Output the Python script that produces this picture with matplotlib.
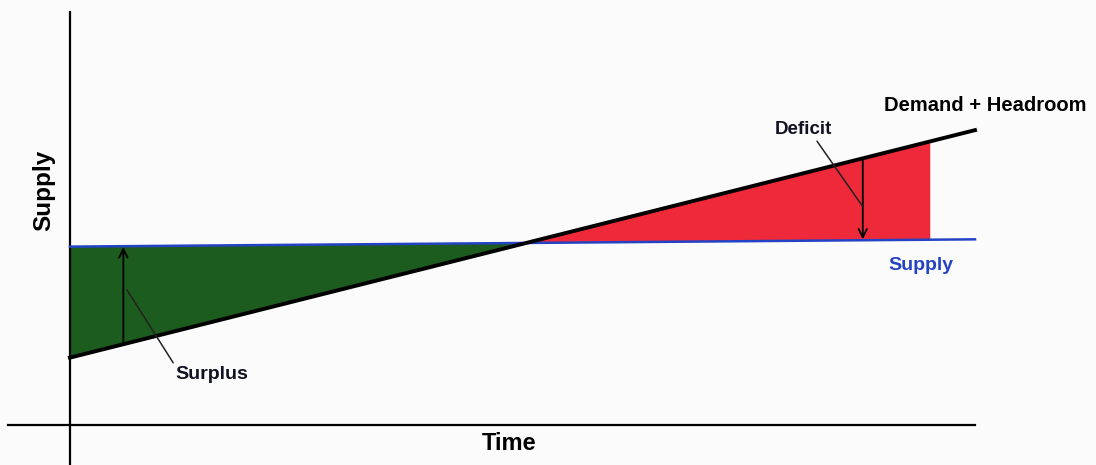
import numpy as np
import matplotlib
matplotlib.use("Agg")
import matplotlib.pyplot as plt

plt.rcParams['font.family'] = ['Liberation Sans', 'DejaVu Sans']

# Time axis endpoints and the two curves (arbitrary units)
time = [0.0, 10.0]
supply = [9.8, 10.2]
demand_headroom = [3.7, 16.2]
deficit_end = 9.5          # red shading stops here
surplus_arrow_t = 0.59
deficit_arrow_t = 8.76

GREEN = '#1d5c1f'
RED = '#ee2a3a'
BLUE = '#2442c4'

fig = plt.figure(figsize=(10.96, 4.65), dpi=100, facecolor='#fbfbfb')
ax = fig.add_axes([0, 0, 1, 1])
ax.set_facecolor('#fbfbfb')
ax.set_xlim(-0.773, 11.337)
ax.set_ylim(-2.198, 23.35)
ax.axis('off')

t = np.linspace(time[0], time[1], 401)
s = np.interp(t, time, supply)
d = np.interp(t, time, demand_headroom)

# shaded surplus / deficit regions
ax.fill_between(t, d, s, where=d <= s, interpolate=True, color=GREEN, lw=0, zorder=1)
ax.fill_between(t, s, d, where=(d >= s) & (t <= deficit_end), interpolate=True,
                color=RED, lw=0, zorder=1)

# axes lines
ax.plot([-0.69, 10.0], [0, 0], color='black', lw=1.6, zorder=3)
ax.plot([0, 0], [-2.3, 22.7], color='black', lw=1.6, zorder=3)

# supply and demand lines
ax.plot(time, supply, color=BLUE, lw=1.8, zorder=4)
ax.plot(time, demand_headroom, color='black', lw=2.8, zorder=5)

# surplus / deficit arrows
s_sur = np.interp(surplus_arrow_t, time, supply)
d_sur = np.interp(surplus_arrow_t, time, demand_headroom)
ax.annotate('', xy=(surplus_arrow_t, s_sur - 0.05), xytext=(surplus_arrow_t, d_sur),
            arrowprops=dict(arrowstyle='->', color='black', lw=1.3,
                            mutation_scale=15, shrinkA=0, shrinkB=0), zorder=6)
s_def = np.interp(deficit_arrow_t, time, supply)
d_def = np.interp(deficit_arrow_t, time, demand_headroom)
ax.annotate('', xy=(deficit_arrow_t, s_def + 0.05), xytext=(deficit_arrow_t, d_def),
            arrowprops=dict(arrowstyle='->', color='black', lw=1.3,
                            mutation_scale=15, shrinkA=0, shrinkB=0), zorder=6)

# labels with leader lines
ax.annotate('Surplus', xy=(0.63, 7.42), xytext=(1.16, 2.80), ha='left', va='center',
            fontsize=14, fontweight='bold', color='#111122',
            arrowprops=dict(arrowstyle='-', color='#222222', lw=1.1,
                            shrinkA=0, shrinkB=0, relpos=(0.0, 1.0)), zorder=7)
ax.annotate('Deficit', xy=(8.76, 12.0), xytext=(8.10, 16.21), ha='center', va='center',
            fontsize=13.5, fontweight='bold', color='#111122',
            arrowprops=dict(arrowstyle='-', color='#222222', lw=1.1,
                            shrinkA=0, shrinkB=0, relpos=(0.71, 0.0)), zorder=7)

ax.text(9.0, 17.53, 'Demand + Headroom', ha='left', va='center',
        fontsize=14.5, fontweight='bold', color='black')
ax.text(9.04, 8.74, 'Supply', ha='left', va='center',
        fontsize=14, fontweight='bold', color=BLUE)
ax.text(4.85, -1.04, 'Time', ha='center', va='center',
        fontsize=17, fontweight='bold', color='black')
ax.text(-0.287, 12.9, 'Supply', ha='center', va='center', rotation=90,
        fontsize=17.5, fontweight='bold', color='black')

fig.savefig('out.png', dpi=100, facecolor=fig.get_facecolor())
